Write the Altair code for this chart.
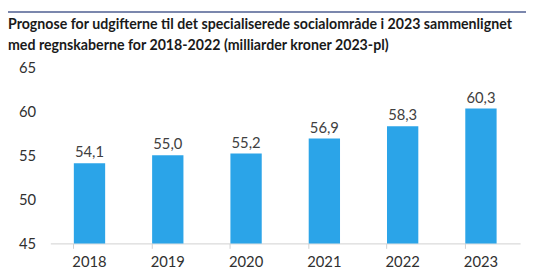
import altair as alt
import pandas as pd

years = ["2018", "2019", "2020", "2021", "2022", "2023"]
values = [54.1, 55.0, 55.2, 56.9, 58.3, 60.3]
y_ticks = [45, 50, 55, 60, 65]
title_lines = [
    "Prognose for udgifterne til det specialiserede socialområde i 2023 sammenlignet",
    "med regnskaberne for 2018-2022 (milliarder kroner 2023-pl)",
]

df = pd.DataFrame({"year": years, "value": values})

FONT = "Lato"
TXT = "#404040"

base = alt.Chart(df).transform_calculate(
    label="replace(format(datum.value, '.1f'), '.', ',')"
)

x = alt.X(
    "year:N",
    sort=years,
    scale=alt.Scale(paddingInner=0.6, paddingOuter=0.3),
    axis=alt.Axis(
        title=None, labelAngle=0, labelFontSize=15, labelColor="#303030",
        labelFont=FONT, labelPadding=6, domainColor="#d0d0d0", tickColor="#d0d0d0",
        tickSize=5, bandPosition=0, grid=False,
    ),
)
y = alt.Y(
    "value:Q",
    scale=alt.Scale(domain=[45, 65], clamp=True),
    axis=alt.Axis(
        title=None, values=y_ticks, labelFontSize=15, labelColor="#303030",
        labelFont=FONT, labelPadding=15, domain=False, ticks=False, grid=False,
    ),
)

bars = base.mark_bar(color="#2BA4E8").encode(x=x, y=y)
labels = base.mark_text(
    dy=-11, fontSize=15, font=FONT, color=TXT
).encode(x=x, y=y, text="label:N")

topline = alt.Chart(pd.DataFrame({"a": [0]})).mark_rule(
    color="#4f5f92", strokeWidth=1.5
).encode(x=alt.value(-43), x2=alt.value(484), y=alt.value(-56))

title_df = pd.DataFrame({"t": [title_lines[0]]})
title_df2 = pd.DataFrame({"t": [title_lines[1]]})
t_style = dict(align="left", baseline="top", font=FONT, fontSize=14.4,
               fontWeight="bold", color="#1a1a1a")
title1 = alt.Chart(title_df).mark_text(**t_style).encode(
    x=alt.value(-43), y=alt.value(-50), text="t:N")
title2 = alt.Chart(title_df2).mark_text(**t_style).encode(
    x=alt.value(-43), y=alt.value(-28), text="t:N")

chart = (
    alt.layer(topline, title1, title2, bars, labels)
    .properties(
        width=477,
        height=179,
        padding={"left": 43, "top": 58, "right": 6, "bottom": 30},
        autosize=alt.AutoSizeParams(type="none"),
    )
    .configure_view(stroke=None)
)

chart.save("out.html", embed_options={"renderer": "svg", "actions": False})
